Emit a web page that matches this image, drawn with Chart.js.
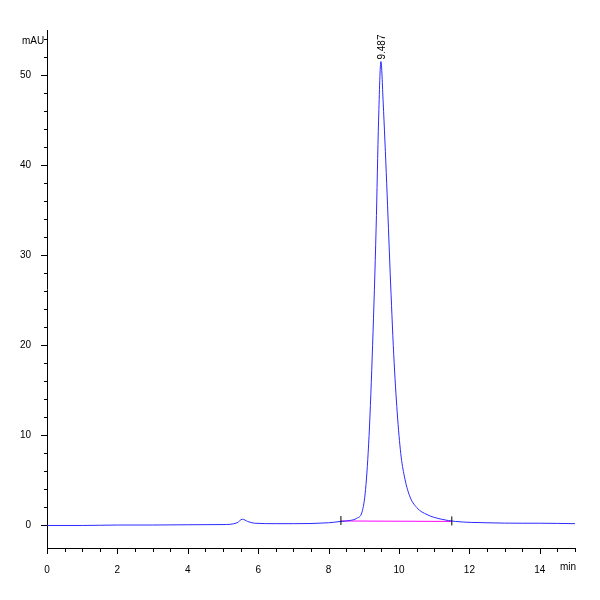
<!DOCTYPE html><html><head><script src="https://cdn.jsdelivr.net/npm/chart.js"></script>
<style>body{margin:0;background:#fff}</style></head><body><canvas id="c" width="600" height="600" style="width:600px;height:600px"></canvas>
<script>
const times=[0,1,2,3,4,5,5.4,5.55,5.7,5.9,6.5,7,8,8.35,8.6,8.8,8.95,9.05,9.15,9.25,9.35,9.42,9.487,9.55,9.65,9.75,9.85,9.95,10.05,10.15,10.3,10.5,10.8,11.2,11.6,12.5,13.5,14,15];
const signal=[0,0,0.05,0.05,0.08,0.1,0.3,0.7,0.45,0.25,0.2,0.2,0.3,0.45,0.55,0.8,1.5,4,10,20,33,45,51.5,47,38,28,19,12.5,8,5.5,3.3,2,1.2,0.7,0.45,0.3,0.25,0.25,0.2];
const baseT=[8.35,11.5], baseV=[0.5,0.45];
const peakLabel="9.487", peakT=9.487, peakV=51.5;
const xTicks=[0,2,4,6,8,10,12,14], yTicks=[0,10,20,30,40,50];
const extra={id:'extra',afterDraw(ch){const c=ch.ctx,x=ch.scales.x,y=ch.scales.y;c.save();c.fillStyle='#000';c.font='10px Arial';
c.textAlign='left';c.fillText('mAU',22,44);c.fillText('min',560,570);
c.translate(x.getPixelForValue(peakT)+4,y.getPixelForValue(peakV)-2);c.rotate(-Math.PI/2);c.fillText(peakLabel,0,0);c.restore();
c.save();c.strokeStyle='#000';c.lineWidth=1;
for(let t=0;t<=15.001;t+=0.5){const px=Math.round(x.getPixelForValue(t))+0.5;c.beginPath();c.moveTo(px,x.top);c.lineTo(px,x.top+(t%2===0?6:4));c.stroke();}
for(let v=0;v<=54;v+=2){const py=Math.round(y.getPixelForValue(v))+0.5;c.beginPath();c.moveTo(y.right,py);c.lineTo(y.right-(v%10===0?6:3),py);c.stroke();}
baseT.forEach((t,i)=>{const px=x.getPixelForValue(t),py=y.getPixelForValue(baseV[i]);c.beginPath();c.moveTo(px,py-5);c.lineTo(px,py+4);c.stroke();});
c.restore();}};
new Chart(document.getElementById('c'),{type:'line',data:{datasets:[
{data:times.map((t,i)=>({x:t,y:signal[i]})),borderColor:'#2a2aff',borderWidth:1,pointRadius:0,cubicInterpolationMode:'monotone'},
{data:baseT.map((t,i)=>({x:t,y:baseV[i]})),borderColor:'#ff00ff',borderWidth:1,pointRadius:0}]},
options:{animation:false,responsive:false,devicePixelRatio:1,layout:{padding:{top:30,right:25,left:0,bottom:0}},plugins:{legend:{display:false},tooltip:{enabled:false}},
scales:{x:{type:'linear',min:0,max:15,afterBuildTicks(s){s.ticks=xTicks.map(v=>({value:v}));},afterFit(s){s.height=52;},grid:{display:false},border:{color:'#000'},ticks:{color:'#000',font:{size:10,family:'Arial'},maxRotation:0,padding:8}},
y:{min:-2.5,max:55,afterBuildTicks(s){s.ticks=yTicks.map(v=>({value:v}));},afterFit(s){s.width=47;},grid:{display:false},border:{color:'#000'},ticks:{color:'#000',font:{size:10,family:'Arial'},padding:8}}}},plugins:[extra]});
</script></body></html>
